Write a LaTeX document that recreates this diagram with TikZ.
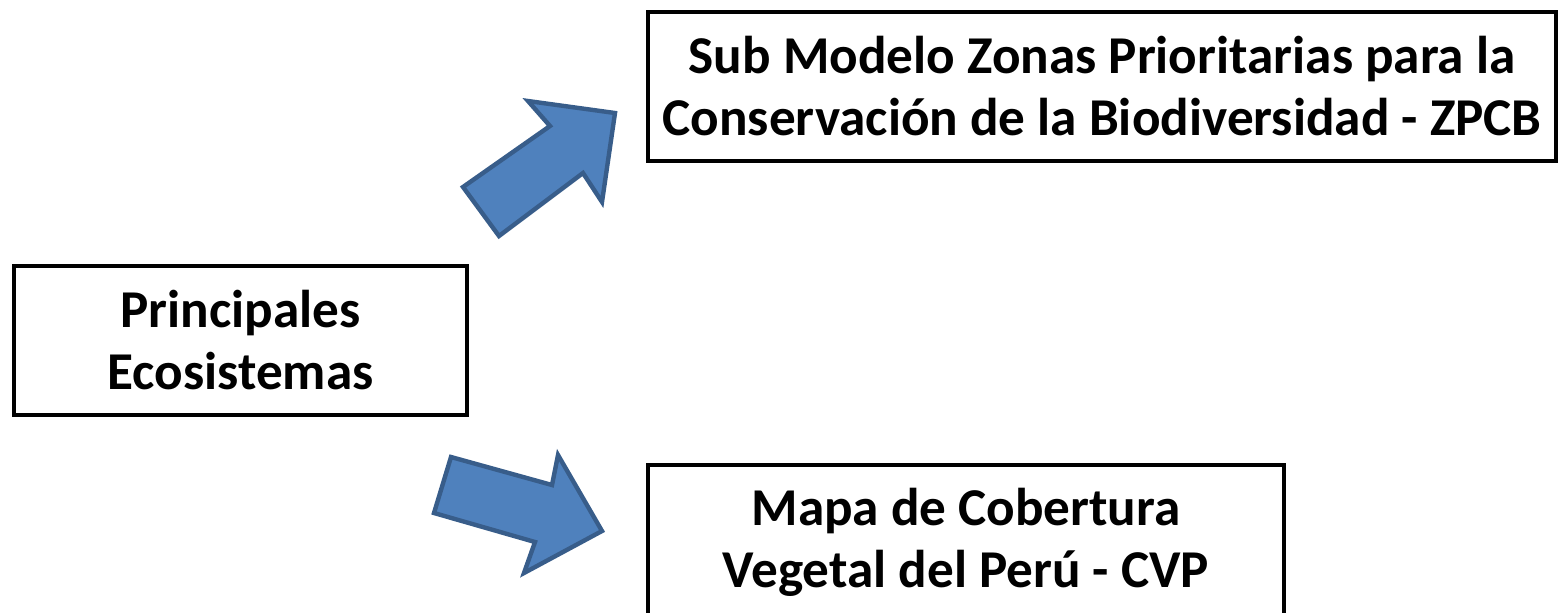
\documentclass[tikz,border=0pt]{standalone}
\usepackage{fontspec}
\setmainfont{Carlito}
\usepackage{tikz}

\definecolor{arrowfill}{HTML}{4F81BD}
\definecolor{arrowline}{HTML}{385D8A}

\begin{document}
\begin{tikzpicture}[x=0.5pt,y=-0.5pt,
    box_node/.style={draw,line width=2pt,align=center,inner sep=0pt,
        font=\fontsize{26.6}{31}\selectfont\bfseries},
    arrow_shape/.style={draw=arrowline,fill=arrowfill,line width=2.2pt,line join=miter}]

    \clip (0,0) rectangle (1558,612);

    \node[box_node, minimum width=226.5pt, minimum height=74.5pt] (eco) at (240.5, 340.5) {Principales\\Ecosistemas};
    \node[box_node, minimum width=454pt, minimum height=74.5pt] (zpcb) at (1102, 86.5) {Sub Modelo Zonas Prioritarias para la\\Conservación de la Biodiversidad - ZPCB};
    \node[box_node, minimum width=318pt, minimum height=77.5pt] (cvp) at (966, 542.5) {Mapa de Cobertura\\Vegetal del Perú - CVP};

    \draw[arrow_shape] (463,187) -- (550,126) -- (528,101) -- (615,113) -- (602,202) -- (583,173) -- (499,236) -- cycle;
    \draw[arrow_shape] (451,457) -- (552,485) -- (558,455) -- (602,531) -- (524,573) -- (535,542) -- (434,513) -- cycle;
\end{tikzpicture}
\end{document}
